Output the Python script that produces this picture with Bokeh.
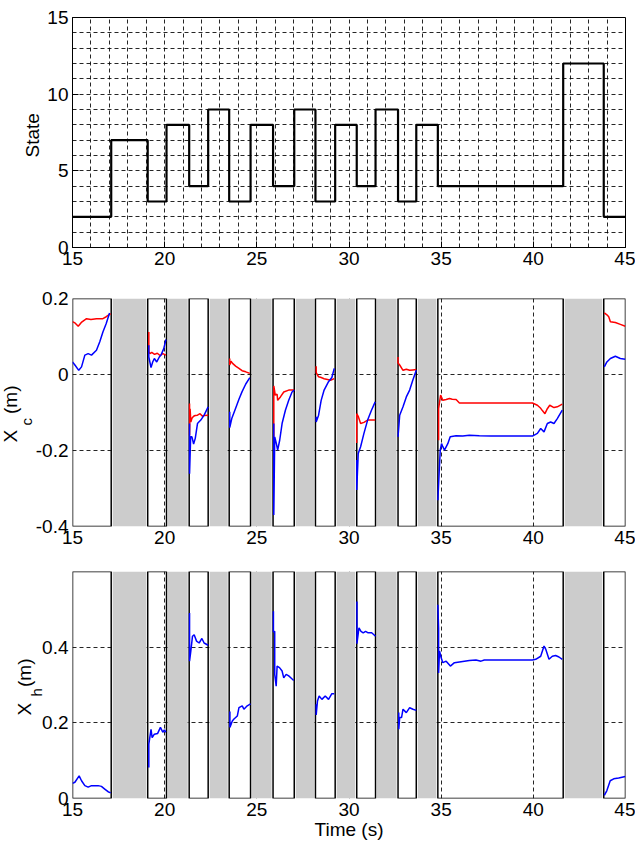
from bokeh.plotting import figure
from bokeh.layouts import column
from bokeh.models import FixedTicker, SingleIntervalTicker, Range1d, Title
from bokeh.embed import file_html
from bokeh.resources import INLINE

# ---------------- data ----------------
state_t = [15.0, 17.1, 19.08, 20.1, 21.33, 22.36, 23.5, 24.66, 25.88, 27.03,
           28.18, 29.25, 30.42, 31.44, 32.66, 33.65, 34.82, 41.62, 43.82, 45.0]
state_v = [2, 7, 3, 8, 4, 9, 3, 8, 4, 9, 3, 8, 4, 9, 3, 8, 4, 12, 2, 2]

contact_start = [15.0, 19.08, 21.33, 23.5, 25.88, 28.18, 30.42, 32.66, 34.82, 43.82]
contact_end = [17.1, 20.1, 22.36, 24.66, 27.03, 29.25, 31.44, 33.65, 41.62, 45.0]

xc_red_t = [
    [15.0, 15.15, 15.31, 15.5, 15.76, 16.0, 16.3, 16.65, 16.83, 17.07],
    [19.14, 19.14, 19.2, 19.3, 19.45, 19.6, 19.75, 19.9, 20.07],
    [21.35, 21.35, 21.38, 21.42, 21.48, 21.57, 21.66, 21.78, 21.92, 22.05, 22.14, 22.36],
    [23.53, 23.53, 23.6, 23.67, 23.85, 24.03, 24.2, 24.4, 24.62],
    [25.92, 25.92, 26.0, 26.1, 26.13, 26.28, 26.46, 26.73, 27.03],
    [28.22, 28.22, 28.35, 28.49, 28.65, 28.83, 29.0, 29.2],
    [30.42, 30.42, 30.5, 30.63, 30.81, 31.01, 31.22, 31.42],
    [32.66, 32.66, 32.75, 32.93, 33.11, 33.29, 33.46, 33.65],
    [34.86, 34.86, 34.97, 35.09, 35.27, 35.45, 35.6, 35.81, 35.99, 37.0, 38.5,
     39.95, 40.22, 40.4, 40.49, 40.63, 40.76, 40.89, 41.12, 41.3, 41.57],
    [43.85, 43.99, 44.09, 44.18, 44.45, 44.72, 44.99],
]
xc_red_v = [
    [0.139, 0.135, 0.127, 0.138, 0.147, 0.145, 0.147, 0.147, 0.152, 0.160],
    [0.112, 0.06, 0.055, 0.058, 0.053, 0.056, 0.05, 0.055, 0.051],
    [-0.076, -0.16, -0.09, -0.125, -0.115, -0.11, -0.108, -0.107, -0.103, -0.11, -0.108, -0.107],
    [0.042, 0.025, 0.035, 0.03, 0.022, 0.016, 0.01, 0.007, 0.003],
    [-0.164, -0.03, -0.054, -0.052, -0.068, -0.059, -0.046, -0.041, -0.041],
    [0.022, 0.005, -0.006, -0.008, -0.011, -0.013, -0.015, -0.011],
    [-0.18, -0.103, -0.11, -0.129, -0.126, -0.12, -0.12, -0.12],
    [0.046, 0.03, 0.025, 0.011, 0.014, 0.011, 0.012, 0.013],
    [-0.173, -0.09, -0.054, -0.068, -0.066, -0.063, -0.065, -0.066, -0.075, -0.075, -0.075,
     -0.075, -0.081, -0.089, -0.095, -0.103, -0.09, -0.081, -0.087, -0.085, -0.078],
    [0.162, 0.157, 0.152, 0.139, 0.137, 0.132, 0.127],
]

xc_blue_t = [
    [15.0, 15.13, 15.34, 15.49, 15.67, 15.85, 16.03, 16.3, 16.48, 16.65, 16.83, 17.01],
    [19.14, 19.14, 19.26, 19.35, 19.44, 19.57, 19.71, 19.8, 19.95, 20.07],
    [21.35, 21.35, 21.41, 21.48, 21.57, 21.66, 21.78, 21.96, 22.14, 22.36],
    [23.53, 23.53, 23.64, 23.85, 24.03, 24.2, 24.4, 24.62],
    [25.92, 25.92, 25.97, 26.06, 26.13, 26.24, 26.37, 26.55, 26.73, 26.91, 27.03],
    [28.22, 28.22, 28.35, 28.49, 28.65, 28.89, 29.07, 29.2],
    [30.42, 30.42, 30.5, 30.63, 30.81, 31.01, 31.22, 31.42],
    [32.66, 32.75, 32.93, 33.11, 33.29, 33.46, 33.65],
    [34.82, 34.88, 34.95, 35.02, 35.09, 35.18, 35.36, 35.49, 35.81, 36.17, 36.53, 37.07,
     37.7, 39.95, 40.22, 40.4, 40.58, 40.76, 40.94, 41.12, 41.3, 41.57],
    [43.85, 43.99, 44.18, 44.45, 44.72, 44.99],
]
xc_blue_v = [
    [0.033, 0.025, 0.011, 0.02, 0.051, 0.055, 0.051, 0.064, 0.086, 0.112, 0.134, 0.162],
    [0.077, 0.046, 0.018, 0.033, 0.042, 0.033, 0.046, 0.051, 0.068, 0.092],
    [-0.129, -0.261, -0.164, -0.164, -0.183, -0.168, -0.129, -0.12, -0.107, -0.085],
    [-0.098, -0.14, -0.116, -0.089, -0.065, -0.045, -0.025, -0.008],
    [-0.129, -0.37, -0.164, -0.182, -0.199, -0.173, -0.129, -0.094, -0.068, -0.046, -0.041],
    [-0.111, -0.125, -0.107, -0.068, -0.041, -0.019, -0.008, 0.016],
    [-0.225, -0.304, -0.208, -0.19, -0.155, -0.12, -0.094, -0.072],
    [-0.164, -0.107, -0.085, -0.059, -0.041, -0.015, 0.011],
    [-0.331, -0.269, -0.199, -0.182, -0.19, -0.199, -0.182, -0.164, -0.161, -0.162, -0.16, -0.161,
     -0.162, -0.162, -0.155, -0.142, -0.151, -0.129, -0.125, -0.129, -0.116, -0.094],
    [0.02, 0.033, 0.042, 0.048, 0.042, 0.04],
]

xh_t = [
    [15.0, 15.13, 15.36, 15.49, 15.67, 15.85, 16.03, 16.39, 16.57, 16.75, 16.93, 17.07],
    [19.14, 19.14, 19.26, 19.32, 19.44, 19.62, 19.77, 19.9, 19.98, 20.07],
    [21.35, 21.35, 21.42, 21.51, 21.6, 21.73, 21.87, 22.02, 22.14, 22.36],
    [23.54, 23.54, 23.67, 23.76, 23.94, 24.03, 24.21, 24.3, 24.48, 24.66],
    [25.9, 25.9, 25.97, 25.97, 26.05, 26.1, 26.23, 26.37, 26.46, 26.59, 26.73, 26.87, 27.0],
    [28.22, 28.22, 28.29, 28.38, 28.53, 28.71, 28.89, 29.07, 29.2],
    [30.43, 30.43, 30.54, 30.65, 30.77, 30.9, 31.04, 31.23, 31.44],
    [32.7, 32.7, 32.75, 32.85, 32.93, 33.11, 33.29, 33.47, 33.65],
    [34.82, 34.86, 34.86, 34.91, 35.0, 35.09, 35.27, 35.5, 35.72, 36.26, 36.53, 36.89, 37.16,
     37.34, 38.78, 39.95, 40.13, 40.4, 40.58, 40.67, 40.85, 41.03, 41.21, 41.39, 41.57],
    [43.85, 43.99, 44.17, 44.36, 44.63, 44.81, 44.99],
]
xh_v = [
    [0.04, 0.043, 0.06, 0.047, 0.034, 0.03, 0.034, 0.034, 0.032, 0.025, 0.018, 0.015],
    [0.082, 0.144, 0.183, 0.161, 0.17, 0.172, 0.188, 0.175, 0.181, 0.175],
    [0.49, 0.363, 0.39, 0.429, 0.433, 0.416, 0.411, 0.423, 0.411, 0.405],
    [0.23, 0.188, 0.205, 0.21, 0.218, 0.24, 0.245, 0.236, 0.245, 0.25],
    [0.495, 0.44, 0.442, 0.328, 0.297, 0.35, 0.346, 0.337, 0.319, 0.328, 0.324, 0.318, 0.312],
    [0.249, 0.221, 0.258, 0.271, 0.262, 0.271, 0.262, 0.277, 0.277],
    [0.521, 0.409, 0.451, 0.442, 0.438, 0.442, 0.438, 0.438, 0.429],
    [0.227, 0.183, 0.214, 0.214, 0.236, 0.227, 0.24, 0.236, 0.233],
    [0.512, 0.45, 0.332, 0.39, 0.372, 0.359, 0.363, 0.35, 0.359, 0.363, 0.365, 0.366, 0.363,
     0.366, 0.366, 0.366, 0.368, 0.376, 0.403, 0.395, 0.368, 0.376, 0.378, 0.374, 0.368],
    [0.008, 0.021, 0.047, 0.052, 0.054, 0.056, 0.058],
]

x_ticks = [15, 20, 25, 30, 35, 40, 45]
state_ticks = [0, 5, 10, 15]
xc_ticks = [-0.4, -0.2, 0.0, 0.2]
xc_tick_labels = ["-0.4", "-0.2", "0", "0.2"]
xh_ticks = [0.0, 0.2, 0.4]
xh_tick_labels = ["0", "0.2", "0.4"]

# ---------------- style ----------------
FONT = "Liberation Sans"
FS = "19px"
W = 635
GRAY = "#cccccc"
GAP = 0.08
NB = "\u00a0"


def base_fig(height, y0, y1, bt, bb):
    p = figure(width=W, height=height, x_range=Range1d(15, 45), y_range=Range1d(y0, y1),
               output_backend="svg", toolbar_location=None,
               min_border_left=71, min_border_right=10,
               min_border_top=bt, min_border_bottom=bb)
    p.background_fill_color = "white"
    p.border_fill_color = "white"
    for ax in (p.xaxis[0], p.yaxis[0]):
        ax.major_label_text_font = FONT
        ax.major_label_text_font_size = FS
        ax.major_label_text_color = "black"
        ax.minor_tick_line_color = None
        ax.major_tick_out = 0
        ax.major_label_standoff = 4
    p.xaxis.ticker = FixedTicker(ticks=x_ticks)
    for g in (p.xgrid[0], p.ygrid[0]):
        g.grid_line_color = "black"
        g.grid_line_dash = "4 3"
        g.grid_line_width = 1
        g.grid_line_alpha = 0.85
    return p


def side_title(p, text, size, offset, standoff=0):
    # align "left" on a left-side title: text starts at the bottom, offset shifts it up
    p.add_layout(Title(text=text, align="left", offset=offset, standoff=standoff,
                       text_font=FONT, text_font_size=size, text_font_style="normal",
                       text_color="black"), "left")


# ---- top: state ----
p1 = base_fig(277, 0, 15, 17, 30)
p1.yaxis.ticker = FixedTicker(ticks=state_ticks)
p1.xgrid.ticker = SingleIntervalTicker(interval=1)
p1.ygrid.ticker = SingleIntervalTicker(interval=1)
for ax in (p1.xaxis[0], p1.yaxis[0]):
    ax.major_tick_in = 6
    ax.major_tick_line_color = "black"
    ax.axis_line_color = "black"
p1.outline_line_color = "black"
p1.outline_line_width = 1
p1.outline_line_alpha = 1
p1.step(state_t, state_v, mode="after", line_width=2.2, color="black")
side_title(p1, "State", FS, 90, standoff=4)


def contact_fig(height, y0, y1, bt, bb, yt, ylabels):
    p = base_fig(height, y0, y1, bt, bb)
    p.yaxis.ticker = FixedTicker(ticks=yt)
    p.yaxis.major_label_overrides = {t: s for t, s in zip(yt, ylabels)}
    p.ygrid.ticker = FixedTicker(ticks=yt)
    for ax in (p.xaxis[0], p.yaxis[0]):
        ax.major_tick_in = 0
        ax.axis_line_color = None
        ax.major_tick_line_color = None
    p.outline_line_color = None
    gl = [e + GAP for e in contact_end[:-1]]
    gr = [s - GAP for s in contact_start[1:]]
    p.quad(left=gl, right=gr, bottom=y0, top=y1, fill_color=GRAY, line_color=None)
    p.quad(left=contact_start, right=contact_end, bottom=y0, top=y1,
           fill_alpha=0, line_color="black", line_width=1.5)
    return p


# ---- middle: X_c ----
p2 = contact_fig(279, -0.4, 0.2, 21, 30, xc_ticks, xc_tick_labels)
p2.multi_line(xc_red_t, xc_red_v, line_color="#ff0000", line_width=1.5)
p2.multi_line(xc_blue_t, xc_blue_v, line_color="#0000ff", line_width=1.5)
side_title(p2, "c", "15px", 101, standoff=-4)
side_title(p2, "X" + NB * 3 + "(m)", FS, 84, standoff=-6)

# ---- bottom: X_h ----
p3 = contact_fig(290, 0.0, 0.6, 15, 48, xh_ticks, xh_tick_labels)
p3.multi_line(xh_t, xh_v, line_color="#0000ff", line_width=1.5)
side_title(p3, "h", "15px", 102, standoff=-11)
side_title(p3, "X" + NB * 3 + "(m)", FS, 83, standoff=-6)
p3.xaxis.axis_label = "Time (s)"
p3.xaxis.axis_label_text_font = FONT
p3.xaxis.axis_label_text_font_size = FS
p3.xaxis.axis_label_text_font_style = "normal"
p3.xaxis.axis_label_text_color = "black"
p3.xaxis.axis_label_standoff = 0

layout = column(p1, p2, p3, spacing=0)
open("out.html", "w").write(file_html(layout, INLINE))
